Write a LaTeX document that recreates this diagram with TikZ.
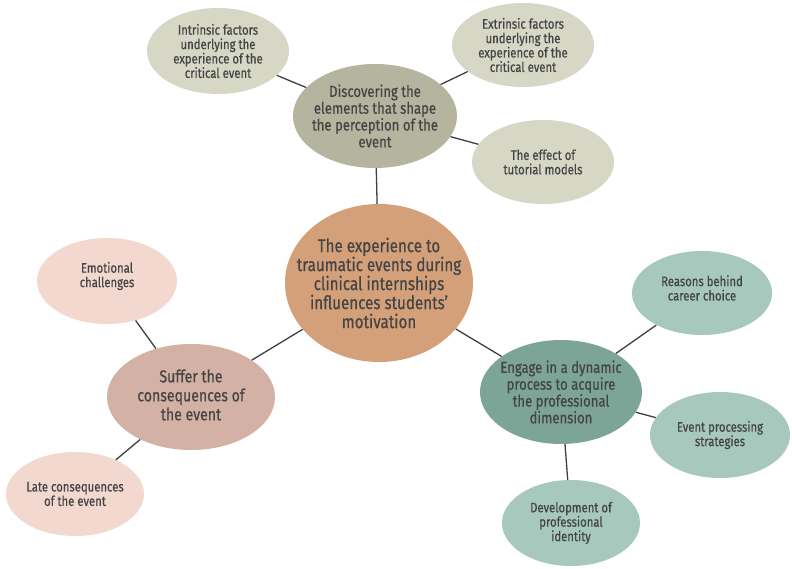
\documentclass[tikz,border=0pt]{standalone}
\usepackage{fontspec}
\setmainfont[FakeStretch=0.82,FakeBold=0.5]{Fira Sans}
\usetikzlibrary{shapes.geometric}
\definecolor{cmain}{HTML}{D4A07A}
\definecolor{colive}{HTML}{B4B49F}
\definecolor{colivel}{HTML}{D6D7C5}
\definecolor{cpink}{HTML}{D3B1A5}
\definecolor{cpinkl}{HTML}{F2D8CE}
\definecolor{cteal}{HTML}{7CA597}
\definecolor{ctealL}{HTML}{A7C8BD}
\definecolor{ctext}{HTML}{444444}
\definecolor{cline}{HTML}{3F3F3F}
\tikzset{
  blob/.style={ellipse, inner sep=0pt},
  txt/.style={inner sep=0pt, align=center, text=ctext},
  bigtxt/.style={txt, font=\fontsize{18.5}{19}\selectfont},
  midtxt/.style={txt, font=\fontsize{16}{16.8}\selectfont},
  sufftxt/.style={txt, font=\fontsize{17.2}{19}\selectfont},
  smalltxt/.style={txt, font=\fontsize{13.8}{14.4}\selectfont},
  link/.style={draw=cline, line width=1.3pt}
}
\begin{document}
\begin{tikzpicture}[x=1pt,y=-1pt]
\useasboundingbox (0,0) rectangle (792,569);
% ellipses
\node[blob, fill=cmain, minimum width=188pt, minimum height=158pt] (c) at (379,283) {};
\node[blob, fill=colive, minimum width=164pt, minimum height=104pt] (d) at (375,116) {};
\node[blob, fill=colivel, minimum width=142pt, minimum height=86pt] (d1) at (218,51) {};
\node[blob, fill=colivel, minimum width=142pt, minimum height=84pt] (d2) at (523,45) {};
\node[blob, fill=colivel, minimum width=142pt, minimum height=84pt] (d3) at (543,162) {};
\node[blob, fill=cpink, minimum width=168pt, minimum height=106pt] (s) at (191,397) {};
\node[blob, fill=cpinkl, minimum width=140pt, minimum height=86pt] (s1) at (107,281) {};
\node[blob, fill=cpinkl, minimum width=138pt, minimum height=84pt] (s2) at (75,494) {};
\node[blob, fill=cteal, minimum width=162pt, minimum height=104pt] (e) at (561,392) {};
\node[blob, fill=ctealL, minimum width=140pt, minimum height=84pt] (e1) at (702,293) {};
\node[blob, fill=ctealL, minimum width=140pt, minimum height=86pt] (e2) at (720,435) {};
\node[blob, fill=ctealL, minimum width=138pt, minimum height=86pt] (e3) at (571,523) {};
% texts
\node[bigtxt] (ct) at (c) {The experience to\\traumatic events during\\clinical internships\\influences students’\\motivation};
\node[midtxt] (dt) at (d) {Discovering the\\elements that shape\\the perception of the\\event};
\node[smalltxt] (d1t) at (d1) {Intrinsic factors\\underlying the\\experience of the\\critical event};
\node[smalltxt] (d2t) at (d2) {Extrinsic factors\\underlying the\\experience of the\\critical event};
\node[smalltxt] (d3t) at (d3) {The effect of\\tutorial models};
\node[sufftxt] (st) at ([yshift=2pt]s.center) {Suffer the\\consequences of\\the event};
\node[smalltxt] (s1t) at ([yshift=5pt]s1.center) {Emotional\\challenges};
\node[smalltxt] (s2t) at (s2) {Late consequences\\of the event};
\node[midtxt] (et) at (e) {Engage in a dynamic\\process to acquire\\the professional\\dimension};
\node[smalltxt] (e1t) at ([yshift=5pt]e1.center) {Reasons behind\\career choice};
\node[smalltxt] (e2t) at (e2) {Event processing\\strategies};
\node[smalltxt] (e3t) at (e3) {Development of\\professional\\identity};
% links
\draw[link] (c) -- (d);
\draw[link] (d) -- (d1);
\draw[link] (d) -- (d2);
\draw[link] (d) -- (d3);
\draw[link] (c) -- (s);
\draw[link] (s) -- (s1);
\draw[link] (s) -- (s2);
\draw[link] (c) -- (e);
\draw[link] (e) -- (e1);
\draw[link] (e) -- (e2);
\draw[link] (e) -- (e3);
\end{tikzpicture}
\end{document}
